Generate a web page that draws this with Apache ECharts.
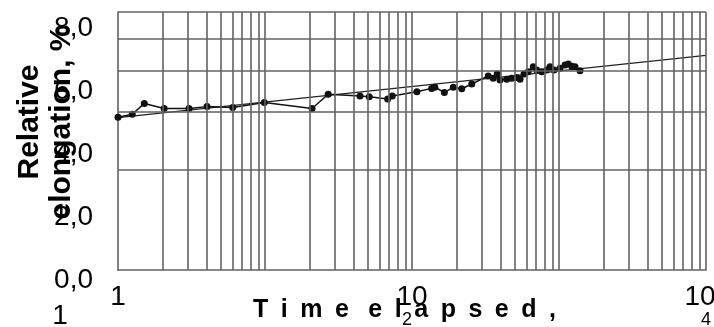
<!DOCTYPE html>
<html>
<head>
<meta charset="utf-8">
<script src="https://cdn.jsdelivr.net/npm/echarts@6/dist/echarts.min.js"></script>
<style>
html,body{margin:0;padding:0;background:#fff;}
#chart{width:714px;height:327px;}
</style>
</head>
<body>
<div id="chart"></div>
<script>
// Measured series (time elapsed, relative elongation on the log grid of the scan)
const timeValues = [1.00, 1.25, 1.51, 2.06, 3.04, 4.03, 6.03, 9.89, 20.9, 26.9, 44.3, 51.2, 68.3, 73.4, 108,
  136, 143, 166, 191, 218, 255, 330, 357, 380, 397, 441, 477, 515, 543, 578, 618, 668, 705, 762, 824, 869, 925,
  1016, 1099, 1157, 1220, 1285, 1390];
const elongValues = [2.89, 2.95, 3.18, 3.07, 3.07, 3.11, 3.09, 3.20, 3.07, 3.39, 3.35, 3.33, 3.28, 3.35, 3.45,
  3.53, 3.56, 3.43, 3.56, 3.52, 3.64, 3.85, 3.79, 3.90, 3.74, 3.76, 3.79, 3.81, 3.76, 3.90, 3.96, 4.10, 4.01, 3.96, 4.01, 4.10, 4.01,
  4.06, 4.15, 4.18, 4.12, 4.10, 3.99];
// Fitted trend line end points
const trendTimes = [1, 10000];
const trendValues = [2.88, 4.44];
// Grid lines of the log paper
const xGridValues = [2,3,4,5,6,7,8,9,10,20,30,40,50,60,70,80,90,100,200,300,400,500,600,700,800,900,1000,
  2000,3000,4000,5000,6000,7000,8000,9000,10000];
const yGridValues = [2,3,4,5,6];
// Tick labels
const xLabelValues = [1, 100, 10000];
const xLabelMain = ["1", "10", "10"];
const xLabelExp = ["", "2", "4"];
const yLabelValues = [0, 2, 4, 6, 8];
const yLabelTexts = ["0,0", "2,0", "4,0", "6,0", "8,0"];

const FONT = '"Liberation Sans", Arial, sans-serif';
const GRIDCOL = '#626262';

const chart = echarts.init(document.getElementById('chart'));
const markData = xGridValues.map(v => ({xAxis: v})).concat(yGridValues.map(v => ({yAxis: v})));

const option = {
  animation: false,
  backgroundColor: '#fff',
  grid: [
    {left: 118, right: 8, top: 12, bottom: 57, containLabel: false, outerBoundsMode: 'none'},
    {left: 118, right: 8, top: 28, bottom: 47, containLabel: false, outerBoundsMode: 'none'}
  ],
  xAxis: [
    {
      type: 'log', logBase: 10, min: 1, max: 10000, gridIndex: 0,
      axisLine: {show: true, lineStyle: {color: GRIDCOL, width: 1.6}},
      axisTick: {show: false},
      splitLine: {show: false},
      axisLabel: {
        margin: 13, fontFamily: FONT, color: '#000', hideOverlap: false,
        formatter: function (v) {
          const i = xLabelValues.findIndex(x => Math.abs(x - v) < 1e-6 * Math.max(1, x));
          if (i < 0) return '';
          if (!xLabelExp[i]) return '{a|' + xLabelMain[i] + '}';
          return '{' + (i === 2 ? 'a4' : 'a') + '|' + xLabelMain[i] + '}\n{' + (i === 2 ? 'b4' : 'b2') + '|' + xLabelExp[i] + '}';
        },
        rich: {
          a: {fontSize: 28, lineHeight: 28, fontFamily: FONT, color: '#000'},
          a4: {fontSize: 28, lineHeight: 28, fontFamily: FONT, color: '#000', padding: [0, 12, 0, 0]},
          b2: {fontSize: 18, lineHeight: 18, fontFamily: FONT, color: '#000', padding: [0, 10, 0, 0]},
          b4: {fontSize: 18, lineHeight: 18, fontFamily: FONT, color: '#000', padding: [0, 0, 0, 0]}
        }
      },
      name: 'T\u2002i\u2002m\u2002e \u2002e\u2002l\u2002a\u2002p\u2002s\u2002e\u2002d\u2002,',
      nameLocation: 'middle', nameGap: 28, nameMoveOverlap: false,
      nameTextStyle: {fontSize: 25, fontWeight: 'bold', fontFamily: FONT, color: '#000', padding: [0, 15, 0, 0]}
    },
    {type: 'value', gridIndex: 1, show: false, min: 0, max: 1}
  ],
  yAxis: [
    {
      type: 'log', logBase: 10, min: 1, max: 6, gridIndex: 0,
      axisLine: {show: true, lineStyle: {color: GRIDCOL, width: 1.6}},
      axisTick: {show: false},
      splitLine: {show: false},
      axisLabel: {show: false}
    },
    {
      type: 'value', gridIndex: 1, min: 0, max: 8, interval: 2,
      axisLine: {show: false}, axisTick: {show: false}, splitLine: {show: false},
      axisLabel: {
        margin: 25, fontSize: 28, fontFamily: FONT, color: '#000',
        formatter: function (v) {
          const i = yLabelValues.indexOf(v);
          return i < 0 ? '' : yLabelTexts[i];
        }
      }
    }
  ],
  graphic: [
    {
      type: 'text', x: 14, y: 122, rotation: Math.PI / 2,
      style: {text: 'Relative\nelongation, %', font: 'bold 30px ' + FONT, fill: '#000',
        textAlign: 'center', textVerticalAlign: 'top', lineHeight: 32}
    },
    {
      type: 'text', x: 60, y: 302,
      style: {text: '1', font: '28px ' + FONT, fill: '#000', textAlign: 'center', textVerticalAlign: 'top'}
    }
  ],
  series: [
    {
      type: 'line', xAxisIndex: 0, yAxisIndex: 0, data: [], z: 1, silent: true,
      markLine: {
        silent: true, symbol: ['none', 'none'], animation: false,
        label: {show: false},
        lineStyle: {color: GRIDCOL, width: 1.6, type: 'solid'},
        data: markData
      }
    },
    {
      type: 'line', xAxisIndex: 0, yAxisIndex: 0, z: 3,
      data: trendTimes.map((t, i) => [t, trendValues[i]]),
      symbol: 'none', lineStyle: {color: '#222', width: 1.3}
    },
    {
      type: 'line', xAxisIndex: 0, yAxisIndex: 0, z: 4,
      data: timeValues.map((t, i) => [t, elongValues[i]]),
      symbol: 'circle', symbolSize: 7,
      itemStyle: {color: '#111'},
      lineStyle: {color: '#111', width: 1.5}
    }
  ]
};
chart.setOption(option);
</script>
</body>
</html>
